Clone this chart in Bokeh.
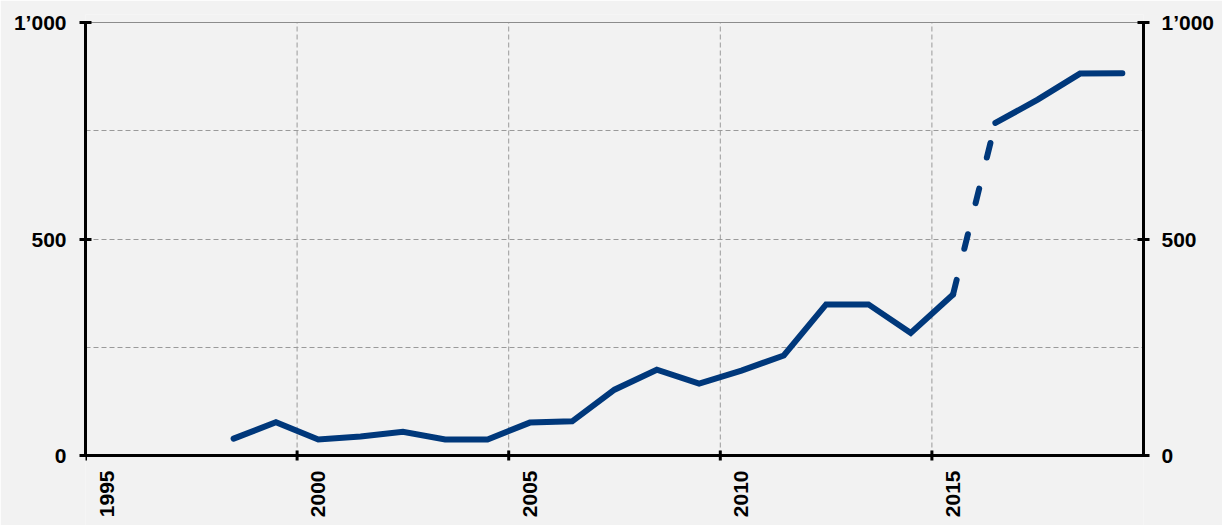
import math
from bokeh.plotting import figure
from bokeh.models import LinearAxis, FixedTicker, Range1d
from bokeh.embed import file_html
from bokeh.resources import INLINE

# ---- data ----
years = list(range(1998, 2020))          # annual values, plotted at mid-year
values = [39, 77, 37, 44, 55, 37, 37, 76, 79, 152, 198, 166, 196, 231,
          349, 349, 283, 372, 768, 822, 882, 883]
dashed_from = 2015                        # segment 2015 -> 2016 drawn dashed
dashed_to = 2016

x_ticks = [1995, 2000, 2005, 2010, 2015]
x_tick_labels = ["1995", "2000", "2005", "2010", "2015"]
y_ticks = [0, 500, 1000]
y_tick_labels = ["0", "500", "1\u2019000"]
y_grid = [250, 500, 750]
x_grid = [2000, 2005, 2010, 2015]
x_min, x_max = 1995, 2020
y_min, y_max = 0, 1000

# ---- styling / layout ----
W, H = 1222, 525
BG = "#F2F2F2"
LINE = "#00387B"
GRID = "#9A9A9A"
FONT = "Liberation Sans"
FS = "21px"
left_px, right_px = 85, 1143           # plot area edges
top_px, zero_px = 22, 455              # pixel rows of y_max and y=0
frame_top = 14
px_per_unit = (zero_px - top_px) / (y_max - y_min)
y_end = y_max + (top_px - frame_top) / px_per_unit
y_start = y_min - (H - zero_px) / px_per_unit

xs = [y + 0.5 for y in years]

p = figure(width=W, height=H, output_backend="svg", toolbar_location=None,
           x_range=Range1d(x_min, x_max), y_range=Range1d(y_start, y_end),
           min_border_left=left_px, min_border_right=W - right_px,
           min_border_top=frame_top, min_border_bottom=0,
           y_axis_location=None, x_axis_location=None)
p.background_fill_color = BG
p.border_fill_color = BG
p.outline_line_color = None
p.xgrid.visible = False

# horizontal grid
p.ygrid.ticker = FixedTicker(ticks=y_grid)
p.ygrid.grid_line_color = GRID
p.ygrid.grid_line_dash = "5 3"
p.ygrid.grid_line_width = 1

# vertical grid (only inside the plot area)
p.segment(x0=x_grid, y0=[y_min] * len(x_grid), x1=x_grid, y1=[y_max] * len(x_grid),
          line_color=GRID, line_width=1, line_dash="5 3")
# top border of plot area
p.segment(x0=[x_min], y0=[y_max], x1=[x_max], y1=[y_max], line_color="#8C8C8C", line_width=1)

# y axes
overrides = {t: l for t, l in zip(y_ticks, y_tick_labels)}
for loc, standoff in (("left", 13), ("right", 12)):
    ax = LinearAxis(ticker=FixedTicker(ticks=y_ticks), bounds=(y_min, y_max))
    ax.major_label_overrides = overrides
    ax.axis_line_width = 3
    ax.axis_line_color = "black"
    ax.major_tick_line_width = 3
    ax.major_tick_in = 6
    ax.major_tick_out = 6
    ax.minor_tick_line_color = None
    ax.major_label_standoff = standoff
    ax.major_label_text_font = FONT
    ax.major_label_text_font_style = "bold"
    ax.major_label_text_font_size = FS
    ax.major_label_text_color = "black"
    p.add_layout(ax, loc)

# x axis line, ticks and rotated labels
p.segment(x0=[x_min], y0=[0], x1=[x_max], y1=[0], line_color="black", line_width=3)
p.scatter(x=x_ticks, y=[0] * len(x_ticks), marker="dash", angle=math.pi / 2, size=10,
          line_color="black", line_width=3)
p.text(x=x_ticks, y=[0] * len(x_ticks), text=x_tick_labels, angle=math.pi / 2,
       x_offset=21, y_offset=15, text_align="right", text_baseline="middle",
       text_font={"value": FONT}, text_font_style="bold", text_font_size=FS,
       text_color="black")

# series: solid / dashed (estimate) / solid
i0 = years.index(dashed_from)
i1 = years.index(dashed_to)
p.line(xs[:i0 + 1], values[:i0 + 1], line_color=LINE, line_width=6,
       line_cap="round", line_join="miter")
p.line(xs[i0:i1 + 1], values[i0:i1 + 1], line_color=LINE, line_width=6,
       line_cap="round", line_dash="15 32")
p.line(xs[i1:], values[i1:], line_color=LINE, line_width=6,
       line_cap="round", line_join="miter")

open("out.html", "w").write(file_html(p, INLINE))
